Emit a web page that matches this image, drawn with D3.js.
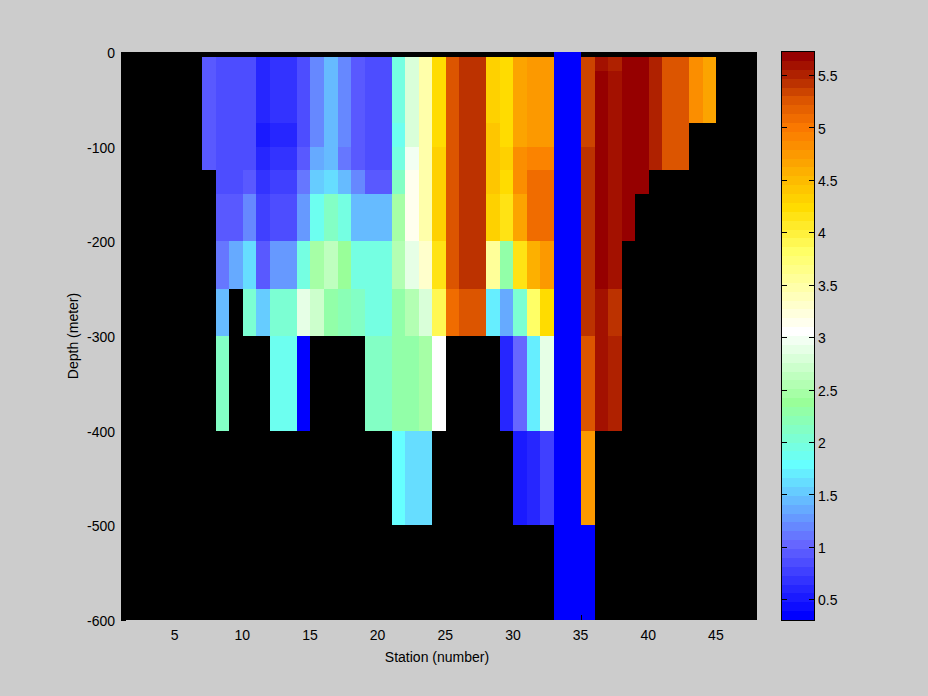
<!DOCTYPE html>
<html>
<head>
<meta charset="utf-8">
<script src="https://cdnjs.cloudflare.com/ajax/libs/d3/7.8.5/d3.min.js"></script>
<style>
html,body{margin:0;padding:0;background:#cccccc;}
svg{display:block;}
text{font-family:"Liberation Sans",Arial,sans-serif;font-size:14px;fill:#000;}
</style>
</head>
<body>
<script>
const N = null;
const depthEdges = [0,-5,-20,-75,-100,-125,-150,-200,-250,-300,-400,-500,-600];
const firstStation = 7;
const xTicks = [5,10,15,20,25,30,35,40,45];
const yTicks = [0,-100,-200,-300,-400,-500,-600];
const colorTicks = [0.5,1,1.5,2,2.5,3,3.5,4,4.5,5,5.5];
const colorDomain = [0.302,5.72];
const stopLevels = [0,8,17,24,32,41,46,55,58,60,63];
const stopColors = ["#0000ff","#6666ff","#66ffff","#99ff99","#ffffff","#ffff66","#ffdc00","#fa7800","#dc5500","#bc3200","#960000"];

// temperature per station (7..44), one value per depth interval, top to bottom
const temperature = [
/* 7*/[N,.94,.94,.94,.94,N,N,N,N,N,N,N],
/* 8*/[N,.85,.85,.85,.85,.85,.94,1.11,1.45,2.12,N,N],
/* 9*/[N,.85,.85,.85,.85,.85,.94,1.36,N,N,N,N],
/*10*/[N,.85,.85,.85,.85,.94,1.19,1.62,2.04,N,N,N],
/*11*/[N,.60,.60,.51,.60,.68,.77,.94,1.53,N,N,N],
/*12*/[N,.68,.68,.60,.68,.77,.85,1.28,2.04,1.87,N,N],
/*13*/[N,.68,.68,.60,.68,.77,.85,1.28,2.04,1.87,N,N],
/*14*/[N,.85,.85,.85,.94,1.08,1.28,1.95,2.88,.34,N,N],
/*15*/[N,1.19,1.19,1.19,1.36,1.53,1.87,2.46,2.72,N,N,N],
/*16*/[N,1.45,1.45,1.45,1.45,1.62,2.12,2.63,2.29,N,N,N],
/*17*/[N,1.19,1.19,1.19,1.11,1.45,1.95,2.38,2.21,N,N,N],
/*18*/[N,.94,.94,.94,.94,1.19,1.45,1.95,2.12,N,N,N],
/*19*/[N,.85,.85,.85,.85,.94,1.45,1.95,1.95,2.12,N,N],
/*20*/[N,.85,.85,.85,.85,.94,1.45,1.95,1.95,2.12,N,N],
/*21*/[N,1.95,1.95,1.87,1.95,2.12,2.46,2.55,2.29,2.29,1.78,N],
/*22*/[N,2.80,2.80,2.80,2.97,3.14,3.14,2.88,2.55,2.29,1.62,N],
/*23*/[N,3.48,3.48,3.48,3.48,3.48,3.48,3.31,2.80,2.46,1.62,N],
/*24*/[N,4.24,4.24,4.24,4.33,4.33,4.33,4.16,3.90,3.05,N,N],
/*25*/[N,5.26,5.26,5.26,5.26,5.26,5.26,5.26,5.05,N,N,N],
/*26*/[N,5.43,5.43,5.43,5.43,5.43,5.43,5.43,5.26,N,N,N],
/*27*/[N,5.43,5.43,5.43,5.43,5.43,5.43,5.43,5.26,N,N,N],
/*28*/[N,4.33,4.33,4.41,4.41,4.41,4.33,3.56,1.70,N,N,N],
/*29*/[N,4.24,4.24,4.24,4.33,4.24,4.16,2.29,1.40,.60,N,N],
/*30*/[N,4.62,4.62,4.62,4.83,4.83,4.66,4.16,2.04,1.02,.51,N],
/*31*/[N,4.75,4.75,4.75,4.92,5.05,5.05,4.58,3.82,1.70,.60,N],
/*32*/[N,4.75,4.75,4.75,4.92,5.05,5.05,4.75,4.24,2.88,.77,N],
/*33*/[.34,.34,.34,.34,.34,.34,.34,.34,.34,.34,.34,.34],
/*34*/[.34,.34,.34,.34,.34,.34,.34,.34,.34,.34,.34,.34],
/*35*/[N,5.34,5.34,5.34,5.43,5.43,5.43,5.43,5.43,5.26,4.75,.34],
/*36*/[N,5.60,5.68,5.68,5.68,5.68,5.68,5.68,5.60,5.60,N,N],
/*37*/[N,5.51,5.60,5.60,5.60,5.60,5.60,5.60,5.43,5.51,N,N],
/*38*/[N,5.68,5.68,5.68,5.68,5.68,5.68,N,N,N,N,N],
/*39*/[N,5.68,5.68,5.68,5.68,5.68,N,N,N,N,N,N],
/*40*/[N,5.51,5.51,5.51,5.51,N,N,N,N,N,N,N],
/*41*/[N,5.26,5.26,5.26,5.26,N,N,N,N,N,N,N],
/*42*/[N,5.26,5.26,5.26,5.26,N,N,N,N,N,N,N],
/*43*/[N,4.83,4.83,N,N,N,N,N,N,N,N,N],
/*44*/[N,4.66,4.66,N,N,N,N,N,N,N,N,N]
];

const W = 928, H = 696;
const x = d3.scaleLinear().domain([1,48]).range([121,757]);
const y = d3.scaleLinear().domain([0,-600]).range([52,620]);

const levelScale = d3.scaleLinear().domain(stopLevels).range(stopColors).interpolate(d3.interpolateRgb);
const palette = d3.range(64).map(i => levelScale(i));
const color = d3.scaleQuantize().domain(colorDomain).range(palette);

const svg = d3.select("body").append("svg").attr("width",W).attr("height",H);
svg.append("rect").attr("width",W).attr("height",H).attr("fill","#cccccc");

svg.append("rect").attr("x",x(1)).attr("y",y(0))
  .attr("width",x(48)-x(1)).attr("height",y(-600)-y(0)).attr("fill","#000");

const cells = [];
temperature.forEach((col,i) => col.forEach((v,j) => {
  if (v !== null) cells.push({s:firstStation+i, top:depthEdges[j], bottom:depthEdges[j+1], v});
}));
svg.append("g").selectAll("rect").data(cells).join("rect")
  .attr("x",d => Math.round(x(d.s)))
  .attr("width",d => Math.round(x(d.s+1))-Math.round(x(d.s)))
  .attr("y",d => Math.round(y(d.top)))
  .attr("height",d => Math.round(y(d.bottom))-Math.round(y(d.top)))
  .attr("fill",d => color(d.v))
  .attr("shape-rendering","crispEdges");

const xAxis = d3.axisBottom(x).tickValues(xTicks).tickSizeInner(-5).tickSizeOuter(0).tickPadding(10);
const yAxis = d3.axisLeft(y).tickValues(yTicks).tickSizeInner(-5).tickSizeOuter(0).tickPadding(6).tickFormat(d => String(d));
const gx = svg.append("g").attr("transform",`translate(0,620)`).call(xAxis);
const gy = svg.append("g").attr("transform",`translate(121,0)`).call(yAxis);
[gx,gy].forEach(g => {
  g.select(".domain").remove();
  g.selectAll("line").attr("stroke","#000").attr("shape-rendering","crispEdges");
  g.selectAll("text").style("font-size","14px").style("font-family",'"Liberation Sans",Arial,sans-serif').attr("fill","#000");
});
gx.selectAll("text").attr("dx",-1);
gy.selectAll("text").attr("dy","0.4em");

svg.append("text").attr("x",437).attr("y",662).attr("text-anchor","middle").text("Station (number)");
svg.append("text").attr("transform","translate(78,336) rotate(-90)").attr("text-anchor","middle").text("Depth (meter)");

// colour bar
const cbx0 = 782, cbx1 = 814;
const cy = d3.scaleLinear().domain(colorDomain).range([620,52]);
const step = (colorDomain[1]-colorDomain[0])/64;
svg.append("g").selectAll("rect").data(palette).join("rect")
  .attr("x",cbx0).attr("width",cbx1-cbx0)
  .attr("y",(d,i) => Math.round(cy(colorDomain[0]+(i+1)*step)))
  .attr("height",(d,i) => Math.round(cy(colorDomain[0]+i*step))-Math.round(cy(colorDomain[0]+(i+1)*step)))
  .attr("fill",d => d).attr("shape-rendering","crispEdges");
svg.append("rect").attr("x",cbx0-.5).attr("y",51.5).attr("width",cbx1-cbx0+1).attr("height",569)
  .attr("fill","none").attr("stroke","#000").attr("shape-rendering","crispEdges");

const cbR = svg.append("g").attr("transform",`translate(${cbx1},0)`)
  .call(d3.axisRight(cy).tickValues(colorTicks).tickSizeInner(-5).tickSizeOuter(0).tickPadding(4).tickFormat(d => String(d)));
const cbL = svg.append("g").attr("transform",`translate(${cbx0},0)`)
  .call(d3.axisLeft(cy).tickValues(colorTicks).tickSizeInner(-5).tickSizeOuter(0).tickFormat(""));
[cbR,cbL].forEach(g => {
  g.select(".domain").remove();
  g.selectAll("line").attr("stroke","#000").attr("shape-rendering","crispEdges");
  g.selectAll("text").style("font-size","14px").style("font-family",'"Liberation Sans",Arial,sans-serif').attr("fill","#000");
});
cbR.selectAll("text").attr("dy","0.4em");
</script>
</body>
</html>
